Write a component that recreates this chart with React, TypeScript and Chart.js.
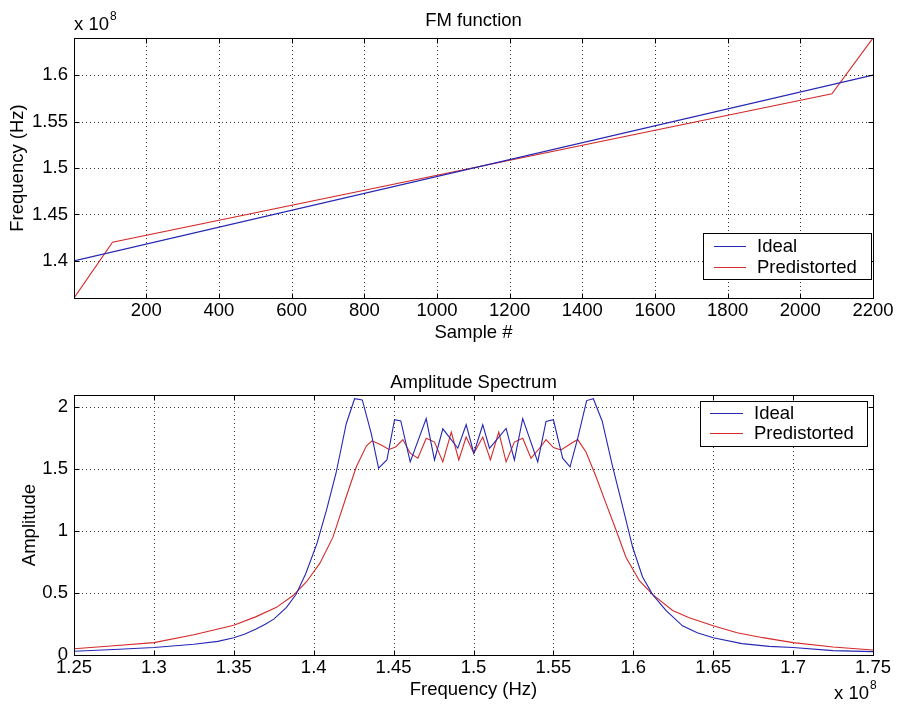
import React, { useEffect, useRef } from "react";
import { Chart, registerables } from "chart.js";

Chart.register(...registerables);

// ---- FM function (frequency in units of 1e8 Hz) ----
const sampleIdeal = [1, 2200];
const freqIdealE8 = [1.4, 1.6];
const samplePre = [1, 107, 2087, 2200];
const freqPreE8 = [1.36, 1.42, 1.58, 1.64];
const sampleTicks = [200, 400, 600, 800, 1000, 1200, 1400, 1600, 1800, 2000, 2200];
const fmFreqTicksE8 = [1.4, 1.45, 1.5, 1.55, 1.6];

// ---- Amplitude spectrum (frequency in units of 1e8 Hz) ----
const specFreqIdealE8 = [
  1.25, 1.275, 1.3, 1.325, 1.34, 1.35, 1.357, 1.364, 1.37, 1.375, 1.383, 1.389,
  1.395, 1.402, 1.408, 1.414, 1.4204, 1.4256, 1.4304, 1.436, 1.4406, 1.4458,
  1.4506, 1.4545, 1.4604, 1.4704, 1.4756, 1.4808, 1.4902, 1.4954, 1.5002,
  1.5058, 1.51, 1.5204, 1.5256, 1.5308, 1.5402, 1.5454, 1.55, 1.5558, 1.5604,
  1.5652, 1.5708, 1.575, 1.5805, 1.5871, 1.5933, 1.5996, 1.6058, 1.612, 1.6204,
  1.6308, 1.64, 1.65, 1.668, 1.685, 1.7, 1.725, 1.75,
];
const specAmpIdeal = [
  0.03, 0.045, 0.06, 0.087, 0.11, 0.14, 0.17, 0.21, 0.25, 0.29, 0.385, 0.49,
  0.656, 0.9, 1.17, 1.47, 1.87, 2.07, 2.06, 1.79, 1.51, 1.575,
  1.9, 1.89, 1.56, 1.91, 1.575, 1.827, 1.67, 1.86, 1.63,
  1.86, 1.67, 1.83, 1.575, 1.91, 1.56, 1.886, 1.9, 1.59, 1.52,
  1.75, 2.055, 2.07, 1.89, 1.52, 1.2, 0.87, 0.63, 0.49, 0.36,
  0.236, 0.18, 0.14, 0.092, 0.07, 0.06, 0.035, 0.027,
];
const specFreqPreE8 = [
  1.25, 1.275, 1.3, 1.325, 1.35, 1.364, 1.3767, 1.3871, 1.3954, 1.4038, 1.412,
  1.4204, 1.4267, 1.433, 1.4365, 1.4417, 1.4471, 1.4513, 1.4558, 1.4604, 1.4652,
  1.4704, 1.4756, 1.4808, 1.4861, 1.4908, 1.4954, 1.5002, 1.5058, 1.5106,
  1.5158, 1.5204, 1.5256, 1.5308, 1.536, 1.5413, 1.5454, 1.55, 1.5548, 1.56,
  1.5652, 1.5704, 1.5767, 1.5829, 1.5892, 1.5954, 1.6038, 1.612, 1.6246, 1.635,
  1.65, 1.665, 1.681, 1.7, 1.725, 1.75,
];
const specAmpPre = [
  0.05, 0.075, 0.1, 0.163, 0.24, 0.31, 0.385, 0.48, 0.59, 0.74, 0.95,
  1.28, 1.52, 1.69, 1.73, 1.7, 1.66, 1.68, 1.74, 1.63, 1.59,
  1.75, 1.72, 1.56, 1.8, 1.575, 1.76, 1.63, 1.76, 1.575,
  1.8, 1.56, 1.72, 1.75, 1.59, 1.67, 1.74, 1.675, 1.656, 1.7,
  1.74, 1.64, 1.44, 1.225, 1.01, 0.79, 0.6, 0.49, 0.36, 0.3,
  0.236, 0.18, 0.14, 0.1, 0.065, 0.04,
];
const specFreqTicksE8 = [1.25, 1.3, 1.35, 1.4, 1.45, 1.5, 1.55, 1.6, 1.65, 1.7, 1.75];
const ampTicks = [0, 0.5, 1, 1.5, 2];

const seriesLabels = ["Ideal", "Predistorted"];
const seriesColors = ["#2626b4", "#d42a2a"];

const FONT = '"Liberation Sans", Arial, Helvetica, sans-serif';
const FONT_SIZE = 18.5;

const fmt = (v: number) => String(+Number(v).toFixed(2));
const pts = (xs: number[], ys: number[]) => xs.map((x, i) => ({ x, y: ys[i] }));

type FrameOpts = {
  title: string;
  titleY: number;
  xTitle: string;
  xTitleY: number;
  yTitle: string;
  yTitleX: number;
  exp: { x: number; y: number };
  legend: { x: number; y: number; w: number; h: number; lx1: number; lx2: number; tx: number; rows: number[] };
};

// MATLAB-style axes: dotted grid, boxed frame, inward ticks, labels, legend
const matlabFrame = {
  id: "matlabFrame",
  beforeDatasetsDraw(chart: any, _a: any, o: FrameOpts) {
    const { ctx, chartArea: a, scales } = chart;
    ctx.save();
    ctx.strokeStyle = "rgba(0,0,0,0.8)";
    ctx.lineWidth = 1;
    ctx.setLineDash([1, 3]);
    for (const t of scales.x.ticks) {
      const x = Math.round(scales.x.getPixelForValue(t.value)) + 0.5;
      if (x <= a.left + 2 || x >= a.right - 2) continue;
      ctx.beginPath();
      ctx.moveTo(x, a.top);
      ctx.lineTo(x, a.bottom);
      ctx.stroke();
    }
    for (const t of scales.y.ticks) {
      const y = Math.round(scales.y.getPixelForValue(t.value)) + 0.5;
      if (y <= a.top + 2 || y >= a.bottom - 2) continue;
      ctx.beginPath();
      ctx.moveTo(a.left, y);
      ctx.lineTo(a.right, y);
      ctx.stroke();
    }
    ctx.restore();
  },
  afterDraw(chart: any, _a: any, o: FrameOpts) {
    const { ctx, chartArea: a, scales } = chart;
    const L = Math.round(a.left) + 0.5;
    const R = Math.round(a.right) + 0.5;
    const T = Math.round(a.top) + 0.5;
    const B = Math.round(a.bottom) + 0.5;
    ctx.save();
    ctx.setLineDash([]);
    ctx.strokeStyle = "#000";
    ctx.lineWidth = 1;
    ctx.strokeRect(L, T, R - L, B - T);
    const tl = 5;
    ctx.beginPath();
    for (const t of scales.x.ticks) {
      const x = Math.round(scales.x.getPixelForValue(t.value)) + 0.5;
      ctx.moveTo(x, B);
      ctx.lineTo(x, B - tl);
      ctx.moveTo(x, T);
      ctx.lineTo(x, T + tl);
    }
    for (const t of scales.y.ticks) {
      const y = Math.round(scales.y.getPixelForValue(t.value)) + 0.5;
      ctx.moveTo(L, y);
      ctx.lineTo(L + tl, y);
      ctx.moveTo(R, y);
      ctx.lineTo(R - tl, y);
    }
    ctx.stroke();

    ctx.fillStyle = "#000";
    ctx.font = `${FONT_SIZE}px ${FONT}`;
    ctx.textAlign = "center";
    ctx.textBaseline = "middle";
    const cx = (a.left + a.right) / 2;
    ctx.fillText(o.title, cx, o.titleY);
    ctx.fillText(o.xTitle, cx, o.xTitleY);
    ctx.save();
    ctx.translate(o.yTitleX, (a.top + a.bottom) / 2);
    ctx.rotate(-Math.PI / 2);
    ctx.fillText(o.yTitle, 0, 0);
    ctx.restore();

    // exponent label "x 10^8"
    ctx.textAlign = "left";
    const base = "x 10";
    ctx.fillText(base, o.exp.x, o.exp.y);
    const bw = ctx.measureText(base).width;
    ctx.font = `12px ${FONT}`;
    ctx.fillText("8", o.exp.x + bw + 1, o.exp.y - 8);

    // legend
    const lg = o.legend;
    ctx.fillStyle = "#fff";
    ctx.fillRect(lg.x, lg.y, lg.w, lg.h);
    ctx.strokeStyle = "#000";
    ctx.strokeRect(lg.x + 0.5, lg.y + 0.5, lg.w, lg.h);
    ctx.font = `${FONT_SIZE}px ${FONT}`;
    chart.data.datasets.forEach((ds: any, i: number) => {
      const y = lg.rows[i];
      ctx.strokeStyle = ds.borderColor;
      ctx.beginPath();
      ctx.moveTo(lg.lx1, y + 0.5);
      ctx.lineTo(lg.lx2, y + 0.5);
      ctx.stroke();
      ctx.fillStyle = "#000";
      ctx.fillText(ds.label, lg.tx, y + 1);
    });
    ctx.restore();
  },
};

function axis(min: number, max: number, ticks: number[], fit: (s: any) => void, padding: number) {
  return {
    type: "linear" as const,
    min,
    max,
    afterBuildTicks: (s: any) => {
      s.ticks = ticks.map((v) => ({ value: v }));
    },
    afterFit: fit,
    grid: { display: false, drawTicks: false },
    border: { display: false },
    ticks: {
      color: "#000",
      font: { family: FONT, size: FONT_SIZE },
      padding,
      maxRotation: 0,
      autoSkip: false,
      callback: (v: any) => fmt(v),
    },
  };
}

function makeChart(
  canvas: HTMLCanvasElement,
  series: { x: number[]; y: number[] }[],
  x: { min: number; max: number; ticks: number[] },
  y: { min: number; max: number; ticks: number[] },
  padding: { top: number; bottom: number },
  frame: FrameOpts
) {
  return new Chart(canvas, {
    type: "line",
    data: {
      datasets: series.map((s, i) => ({
        label: seriesLabels[i],
        data: pts(s.x, s.y),
        borderColor: seriesColors[i],
        backgroundColor: seriesColors[i],
        borderWidth: 1.1,
        pointRadius: 0,
        tension: 0,
        fill: false,
      })),
    },
    options: {
      responsive: false,
      animation: false,
      devicePixelRatio: 1,
      layout: { padding: { left: 0, right: 25, top: padding.top, bottom: padding.bottom } },
      scales: {
        x: axis(x.min, x.max, x.ticks, (s: any) => { s.height = 30; }, 2),
        y: axis(y.min, y.max, y.ticks, (s: any) => { s.width = 74; }, 6),
      },
      plugins: {
        legend: { display: false },
        tooltip: { enabled: false },
        title: { display: false },
        matlabFrame: frame,
      } as any,
    },
    plugins: [matlabFrame],
  });
}

export default function App() {
  const topRef = useRef<HTMLCanvasElement>(null);
  const botRef = useRef<HTMLCanvasElement>(null);

  useEffect(() => {
    const top = makeChart(
      topRef.current!,
      [
        { x: sampleIdeal, y: freqIdealE8 },
        { x: samplePre, y: freqPreE8 },
      ],
      { min: 1, max: 2200, ticks: sampleTicks },
      { min: 1.36, max: 1.64, ticks: fmFreqTicksE8 },
      { top: 38, bottom: 27 },
      {
        title: "FM function",
        titleY: 21,
        xTitle: "Sample #",
        xTitleY: 333,
        yTitle: "Frequency (Hz)",
        yTitleX: 18,
        exp: { x: 74, y: 25 },
        legend: { x: 703, y: 233, w: 168, h: 46, lx1: 714, lx2: 746, tx: 757, rows: [246, 267] },
      }
    );
    const bottom = makeChart(
      botRef.current!,
      [
        { x: specFreqIdealE8, y: specAmpIdeal },
        { x: specFreqPreE8, y: specAmpPre },
      ],
      { min: 1.25, max: 1.75, ticks: specFreqTicksE8 },
      { min: 0, max: 2.1, ticks: ampTicks },
      { top: 40, bottom: 26 },
      {
        title: "Amplitude Spectrum",
        titleY: 28,
        xTitle: "Frequency (Hz)",
        xTitleY: 335,
        yTitle: "Amplitude",
        yTitleX: 30,
        exp: { x: 834, y: 339 },
        legend: { x: 700, y: 46, w: 167, h: 45, lx1: 710, lx2: 743, tx: 754, rows: [58, 78] },
      }
    );
    return () => {
      top.destroy();
      bottom.destroy();
    };
  }, []);

  return (
    <div style={{ position: "fixed", left: 0, top: 0, width: 898, height: 711, background: "#fff" }}>
      <canvas ref={topRef} width={898} height={355} style={{ position: "absolute", left: 0, top: 0 }} />
      <canvas ref={botRef} width={898} height={356} style={{ position: "absolute", left: 0, top: 355 }} />
    </div>
  );
}
